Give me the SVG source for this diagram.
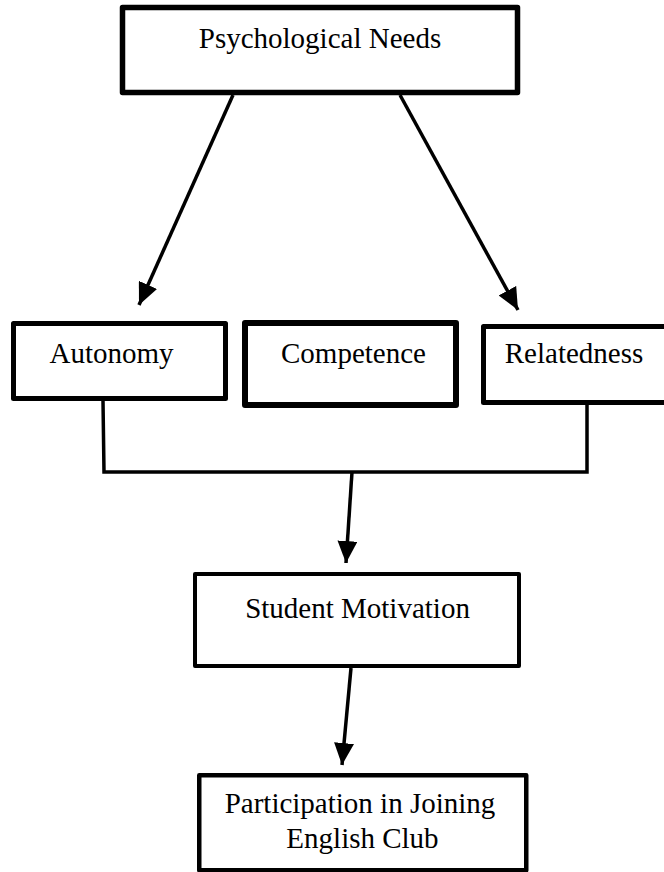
<svg xmlns="http://www.w3.org/2000/svg" width="664" height="872" viewBox="0 0 664 872">
<style>
.box{fill:#fff;stroke:#000;stroke-linejoin:round}
.lbl{font-family:"Liberation Serif","Times New Roman",serif;font-size:29px;fill:#000;text-anchor:middle}
.con{fill:none;stroke:#000;stroke-width:3.5}
</style>
<defs>
<marker id="ah" markerUnits="userSpaceOnUse" markerWidth="24" markerHeight="20" refX="22" refY="10" orient="auto">
<path d="M0,0 L22,10 L0,20 z" fill="#000"/>
</marker>
</defs>
<rect width="664" height="872" fill="#fff"/>
<g id="connectors">
<line class="con" x1="233" y1="95" x2="139" y2="305" marker-end="url(#ah)"/>
<line class="con" x1="400" y1="95" x2="518" y2="310" marker-end="url(#ah)"/>
<polyline class="con" points="103,401 104,472 587,472 587,405"/>
<line class="con" x1="352" y1="472" x2="346" y2="563" marker-end="url(#ah)"/>
<line class="con" x1="351" y1="668" x2="342" y2="765" marker-end="url(#ah)"/>
</g>
<g id="psychological-needs">
<rect class="box" x="122.5" y="7.5" width="395" height="85" stroke-width="5.5"/>
<text class="lbl" x="320" y="48">Psychological Needs</text>
</g>
<g id="autonomy">
<rect class="box" x="13.5" y="323.5" width="212" height="75" stroke-width="5"/>
<text class="lbl" x="111.5" y="363">Autonomy</text>
</g>
<g id="competence">
<rect class="box" x="245" y="323" width="211" height="82" stroke-width="6"/>
<text class="lbl" x="353.5" y="363">Competence</text>
</g>
<g id="relatedness">
<rect class="box" x="483.5" y="326.5" width="190" height="76" stroke-width="5"/>
<text class="lbl" x="574" y="363">Relatedness</text>
</g>
<g id="student-motivation">
<rect class="box" x="195" y="574" width="324" height="92" stroke-width="4"/>
<text class="lbl" x="357.5" y="618">Student Motivation</text>
</g>
<g id="participation">
<rect class="box" x="199.25" y="775.25" width="327" height="95" stroke-width="4.5"/>
<text class="lbl" x="360" y="813">Participation in Joining</text>
<text class="lbl" x="362.5" y="848">English Club</text>
</g>
</svg>
